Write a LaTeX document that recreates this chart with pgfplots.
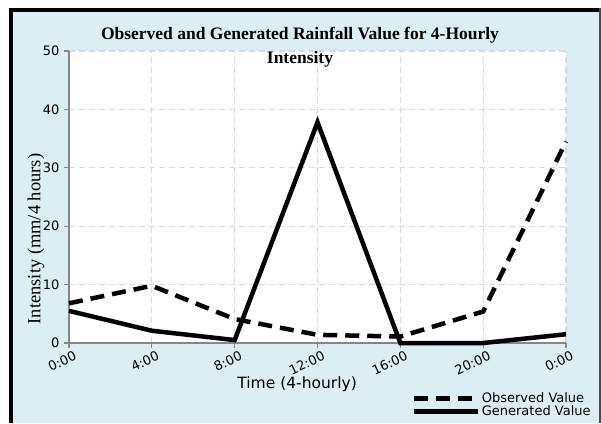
\documentclass[border=0pt]{standalone}
\usepackage{pgfplots}
\pgfplotsset{compat=1.18}
\usepackage{fontspec}
\setmainfont{Liberation Serif}
\newfontfamily\verd{DejaVu Sans}
\definecolor{bgblue}{HTML}{DAEEF3}
\definecolor{gridgray}{HTML}{D9D9D9}
\definecolor{axgray}{HTML}{868686}

\pgfplotstableread{
x obs gen
0 6.8 5.5
1 9.8 2.1
2 4.1 0.5
3 1.4 37.8
4 1.1 0.0
5 5.4 0.0
6 34.5 1.5
}\rain

\begin{document}
\begin{tikzpicture}[x=1pt,y=1pt]
\useasboundingbox (0,0) rectangle (601,423);
\fill[white] (0,0) rectangle (601,423);
\fill[bgblue] (10,0) rectangle (601,413);
\fill[black] (8.5,0) rectangle (12.5,414.5);
\fill[black] (8.5,411) rectangle (601,414.5);
\fill[black!70] (599.3,0) rectangle (601,414.5);
\begin{axis}[
  at={(69pt,80pt)}, anchor=south west,
  scale only axis, width=497pt, height=292pt,
  xmin=0, xmax=6, ymin=0, ymax=50,
  xtick={0,...,6}, xticklabels={0:00,4:00,8:00,12:00,16:00,20:00,0:00},
  ytick={0,10,...,50},
  axis background/.style={fill=white},
  axis x line*=bottom, axis y line*=left,
  axis line style={-, axgray, line width=1.5pt},
  tick align=outside, major tick length=5pt,
  tick style={axgray, line width=1.2pt},
  grid=major,
  major grid style={gridgray, line width=1.2pt, dash pattern=on 6pt off 4pt},
  /pgf/number format/assume math mode=true,
  yticklabel style={font=\verd\fontsize{13}{14}\selectfont, xshift=-1pt},
  xticklabel style={font=\verd\fontsize{13}{14}\selectfont, rotate=25, anchor=north east, xshift=4pt, yshift=-3pt, inner sep=1pt},
  xlabel={Time (4-hourly)},
  xlabel style={font=\verd\fontsize{15.5}{18}\selectfont, at={(axis description cs:0.459,0)}, anchor=center, yshift=-41.5pt},
  ylabel={Intensity (mm/4 hours)},
  ylabel style={font=\fontsize{18.5}{20}\selectfont, at={(axis description cs:-0.0664,0.356)}, anchor=center},
  legend style={draw=none, fill=none, at={(axis description cs:0.69,-0.166)}, anchor=north west,
    font=\verd\fontsize{13}{13}\selectfont, row sep=-1pt, inner sep=0pt,
    nodes={inner sep=1.2pt}},
  legend cell align=left,
  legend image code/.code={\draw[#1] (0pt,0pt) -- (64pt,0pt);},
  clip=false,
]
\addplot[black, line width=4.5pt, dash pattern=on 14pt off 8pt] table[x=x, y=obs] {\rain};
\addlegendentry{Observed Value}
\addplot[black, line width=4.5pt] table[x=x, y=gen] {\rain};
\addlegendentry{Generated Value}
\end{axis}
\node[font=\fontsize{17.5}{24}\selectfont\bfseries, align=center] at (300,376) {Observed and Generated Rainfall Value for 4-Hourly\\Intensity};
\end{tikzpicture}
\end{document}
